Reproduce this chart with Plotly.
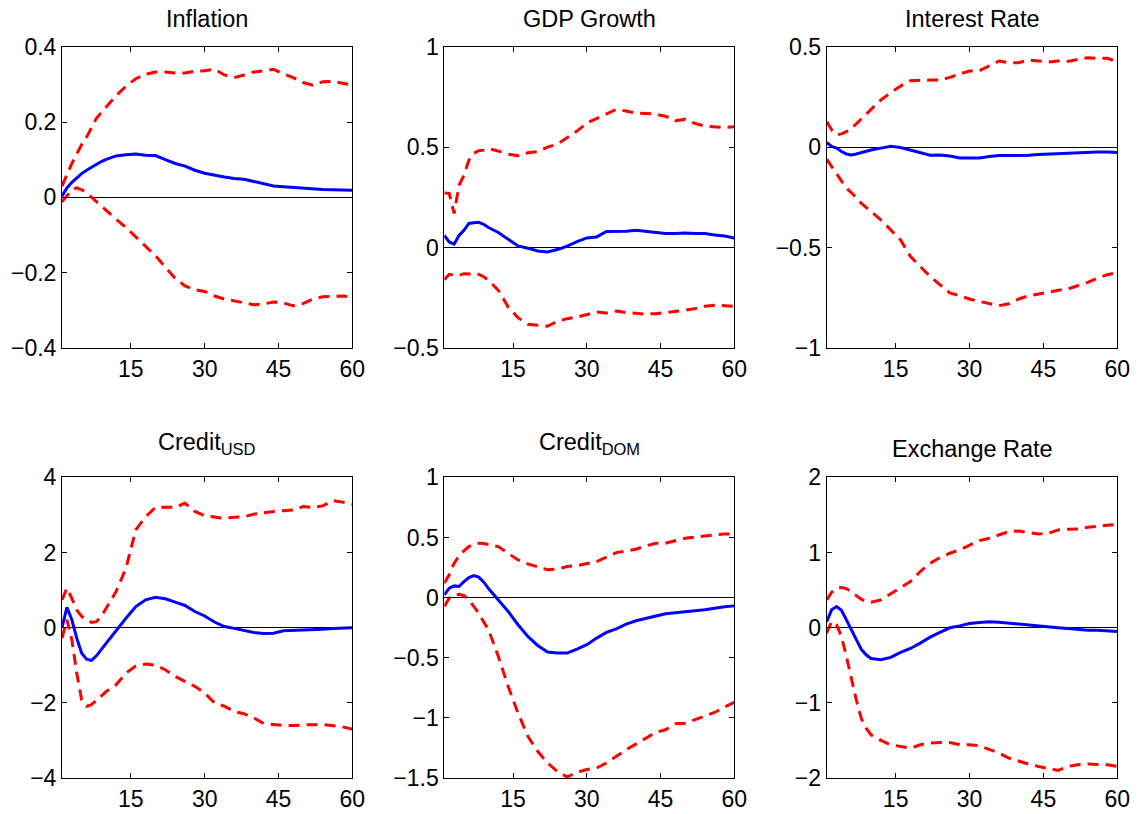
import plotly.graph_objects as go

# Forecast horizons (months)
horizon = [1, 2, 3, 4, 5, 6, 7, 8, 9, 10] + list(range(12, 61, 2))

# Inflation
infl_irf = [0.003, 0.025, 0.04, 0.052, 0.063, 0.072, 0.08, 0.088, 0.095, 0.101,
            0.11, 0.113, 0.115, 0.112, 0.111, 0.1, 0.09, 0.083, 0.072, 0.064, 0.058, 0.054, 0.05,
            0.048, 0.042, 0.036, 0.03, 0.028, 0.026, 0.025, 0.022, 0.021, 0.02, 0.019, 0.019]
infl_hi = [0.03, 0.06, 0.09, 0.115, 0.14, 0.16, 0.185, 0.21, 0.225, 0.24,
           0.27, 0.295, 0.315, 0.327, 0.333, 0.333, 0.33, 0.33, 0.335, 0.336, 0.34, 0.325, 0.318,
           0.325, 0.333, 0.336, 0.34, 0.328, 0.318, 0.305, 0.298, 0.307, 0.308, 0.303, 0.298]
infl_lo = [-0.012, 0.005, 0.02, 0.025, 0.02, 0.012, 0.0, -0.012, -0.023, -0.035,
           -0.058, -0.08, -0.105, -0.13, -0.155, -0.185, -0.215, -0.235, -0.245, -0.25, -0.262,
           -0.27, -0.275, -0.28, -0.285, -0.283, -0.278, -0.28, -0.288, -0.282, -0.27, -0.264,
           -0.262, -0.262, -0.265]

# GDP growth
gdp_irf = [0.061, 0.028, 0.017, 0.06, 0.086, 0.12, 0.123, 0.126, 0.116, 0.1,
           0.075, 0.04, 0.008, -0.003, -0.017, -0.022, -0.01, 0.007, 0.03, 0.048, 0.053, 0.08,
           0.08, 0.081, 0.086, 0.081, 0.078, 0.07, 0.07, 0.073, 0.07, 0.07, 0.063, 0.058, 0.048]
gdp_hi = [0.272, 0.27, 0.17, 0.31, 0.36, 0.435, 0.47, 0.482, 0.485, 0.493,
          0.48, 0.465, 0.457, 0.472, 0.477, 0.5, 0.515, 0.548, 0.58, 0.62, 0.643, 0.663, 0.688,
          0.68, 0.67, 0.668, 0.664, 0.654, 0.631, 0.638, 0.618, 0.605, 0.601, 0.598, 0.601]
gdp_lo = [-0.16, -0.133, -0.138, -0.138, -0.13, -0.13, -0.13, -0.133, -0.145, -0.163,
          -0.213, -0.296, -0.349, -0.382, -0.387, -0.392, -0.367, -0.354, -0.346, -0.332, -0.321,
          -0.326, -0.316, -0.324, -0.329, -0.331, -0.329, -0.324, -0.319, -0.312, -0.304, -0.292,
          -0.287, -0.289, -0.292]

# Interest rate
rate_irf = [0.023, 0.003, -0.005, -0.022, -0.034, -0.039, -0.034, -0.027, -0.02, -0.014,
            -0.005, 0.004, -0.002, -0.014, -0.027, -0.04, -0.039, -0.044, -0.054, -0.054, -0.054,
            -0.047, -0.042, -0.042, -0.042, -0.04, -0.037, -0.035, -0.03, -0.029, -0.029, -0.025,
            -0.024, -0.024, -0.027]
rate_hi = [0.127, 0.086, 0.061, 0.066, 0.077, 0.094, 0.116, 0.139, 0.162, 0.185,
           0.235, 0.271, 0.304, 0.331, 0.334, 0.334, 0.334, 0.347, 0.364, 0.379, 0.38, 0.404,
           0.429, 0.42, 0.42, 0.434, 0.43, 0.424, 0.429, 0.427, 0.437, 0.445, 0.442, 0.442, 0.425]
rate_lo = [-0.06, -0.097, -0.13, -0.171, -0.204, -0.226, -0.254, -0.279, -0.3, -0.321,
           -0.362, -0.412, -0.462, -0.544, -0.594, -0.644, -0.685, -0.726, -0.74, -0.756, -0.768,
           -0.78, -0.789, -0.78, -0.756, -0.74, -0.73, -0.723, -0.713, -0.706, -0.69, -0.673,
           -0.652, -0.635, -0.624]

# Credit in US dollars
cusd_irf = [0.0, 0.54, 0.21, -0.28, -0.68, -0.84, -0.87, -0.75, -0.58, -0.41,
            -0.06, 0.25, 0.56, 0.74, 0.81, 0.77, 0.68, 0.59, 0.43, 0.31, 0.15, 0.03, -0.02,
            -0.08, -0.13, -0.155, -0.15, -0.085, -0.075, -0.06, -0.06, -0.04, -0.02, 0.0, 0.0]
cusd_hi = [0.74, 1.05, 0.78, 0.47, 0.3, 0.21, 0.14, 0.16, 0.3, 0.52,
           0.96, 1.58, 2.6, 2.95, 3.2, 3.2, 3.2, 3.31, 3.09, 2.98, 2.95, 2.91, 2.94,
           2.95, 3.02, 3.06, 3.09, 3.11, 3.13, 3.22, 3.2, 3.24, 3.38, 3.34, 3.28]
cusd_lo = [-0.28, 0.21, -0.32, -1.21, -1.92, -2.09, -2.05, -1.94, -1.82, -1.7,
           -1.52, -1.21, -1.02, -0.97, -1.0, -1.12, -1.3, -1.43, -1.56, -1.74, -2.0, -2.09, -2.23,
           -2.29, -2.4, -2.55, -2.58, -2.6, -2.6, -2.58, -2.58, -2.58, -2.61, -2.64, -2.7]

# Domestic-currency credit
cdom_irf = [0.023, 0.078, 0.097, 0.092, 0.133, 0.166, 0.183, 0.17, 0.13, 0.075,
            -0.02, -0.115, -0.226, -0.323, -0.398, -0.453, -0.461, -0.461, -0.428, -0.392, -0.337,
            -0.29, -0.26, -0.221, -0.193, -0.174, -0.152, -0.135, -0.127, -0.121, -0.11, -0.102,
            -0.088, -0.077, -0.069]
cdom_hi = [0.12, 0.189, 0.286, 0.346, 0.388, 0.424, 0.446, 0.452, 0.45, 0.443,
           0.424, 0.369, 0.313, 0.28, 0.258, 0.231, 0.236, 0.258, 0.266, 0.28, 0.3, 0.336, 0.374,
           0.388, 0.402, 0.43, 0.452, 0.452, 0.471, 0.493, 0.502, 0.513, 0.521, 0.529, 0.529]
cdom_lo = [-0.074, -0.005, 0.017, 0.028, 0.017, -0.019, -0.074, -0.13, -0.2, -0.268,
           -0.49, -0.739, -0.96, -1.154, -1.278, -1.375, -1.445, -1.492, -1.453, -1.43, -1.417,
           -1.375, -1.32, -1.265, -1.218, -1.168, -1.121, -1.099, -1.049, -1.044, -1.016, -0.988,
           -0.955, -0.911, -0.872]

# Exchange rate
fx_irf = [0.08, 0.237, 0.28, 0.23, 0.104, -0.029, -0.162, -0.286, -0.361, -0.41,
          -0.427, -0.396, -0.33, -0.277, -0.206, -0.126, -0.064, -0.002, 0.024, 0.055, 0.069,
          0.078, 0.073, 0.06, 0.047, 0.029, 0.02, 0.011, -0.002, -0.011, -0.024, -0.033, -0.033,
          -0.038, -0.051]
fx_hi = [0.37, 0.472, 0.525, 0.534, 0.52, 0.48, 0.427, 0.379, 0.35, 0.339,
         0.37, 0.45, 0.525, 0.613, 0.746, 0.857, 0.932, 0.99, 1.034, 1.1, 1.158, 1.19, 1.233,
         1.278, 1.286, 1.269, 1.247, 1.256, 1.3, 1.309, 1.313, 1.336, 1.344, 1.362, 1.375]
fx_lo = [-0.073, 0.082, 0.038, -0.117, -0.383, -0.693, -0.959, -1.203, -1.337, -1.425,
         -1.5, -1.558, -1.58, -1.602, -1.558, -1.536, -1.527, -1.527, -1.558, -1.558, -1.571,
         -1.625, -1.669, -1.736, -1.78, -1.815, -1.846, -1.869, -1.9, -1.846, -1.824, -1.815,
         -1.815, -1.824, -1.846]

titles = ["Inflation", "GDP Growth", "Interest Rate",
          "Credit<sub>USD</sub>", "Credit<sub>DOM</sub>", "Exchange Rate"]
x_ticks = [15, 30, 45, 60]
y_ranges = [[-0.4, 0.4], [-0.5, 1], [-1, 0.5], [-4, 4], [-1.5, 1], [-2, 2]]
y_ticks = [[-0.4, -0.2, 0, 0.2, 0.4], [-0.5, 0, 0.5, 1], [-1, -0.5, 0, 0.5],
           [-4, -2, 0, 2, 4], [-1.5, -1, -0.5, 0, 0.5, 1], [-2, -1, 0, 1, 2]]

panels = [(infl_irf, infl_hi, infl_lo), (gdp_irf, gdp_hi, gdp_lo),
          (rate_irf, rate_hi, rate_lo), (cusd_irf, cusd_hi, cusd_lo),
          (cdom_irf, cdom_hi, cdom_lo), (fx_irf, fx_hi, fx_lo)]

W, H = 1140, 814
col_px = [(62, 352.3), (444.3, 734.3), (826.7, 1117.3)]
row_px = [(46.7, 348), (477.3, 778)]

FONT = "Liberation Sans, Arial, Helvetica, sans-serif"
TICK_SIZE = 23
TITLE_SIZE = 23.5
fig = go.Figure()
layout = dict(
    width=W, height=H, margin=dict(l=0, r=0, t=0, b=0, autoexpand=False),
    paper_bgcolor="white", plot_bgcolor="white", showlegend=False,
    font=dict(family=FONT, size=TICK_SIZE, color="black"),
    annotations=[],
)

for i, (irf, hi, lo) in enumerate(panels):
    r, c = divmod(i, 3)
    ax = "" if i == 0 else str(i + 1)
    xdom = [col_px[c][0] / W, col_px[c][1] / W]
    ydom = [1 - row_px[r][1] / H, 1 - row_px[r][0] / H]
    common = dict(showline=True, mirror="ticks", linecolor="black", linewidth=1,
                  ticks="inside", ticklen=5, tickwidth=1, tickcolor="black",
                  showgrid=False, tickfont=dict(size=TICK_SIZE, family=FONT, color="black"))
    layout["xaxis" + ax] = dict(domain=xdom, range=[1, 60], tickvals=x_ticks,
                                zeroline=False, anchor="y" + ax, **common)
    layout["yaxis" + ax] = dict(domain=ydom, range=y_ranges[i], tickvals=y_ticks[i],
                                zeroline=True, zerolinecolor="black", zerolinewidth=1,
                                anchor="x" + ax, **common)
    for band in (hi, lo):
        fig.add_trace(go.Scatter(x=horizon, y=band, mode="lines", xaxis="x" + ax, yaxis="y" + ax,
                                 line=dict(color="#ff0000", width=3, dash="11px,7px")))
    fig.add_trace(go.Scatter(x=horizon, y=irf, mode="lines", xaxis="x" + ax, yaxis="y" + ax,
                             line=dict(color="#0000ff", width=3)))
    shift = 17 if "<sub>" in titles[i] else 13
    layout["annotations"].append(dict(
        text=titles[i], x=(xdom[0] + xdom[1]) / 2, y=ydom[1], xref="paper", yref="paper",
        xanchor="center", yanchor="bottom", yshift=shift, showarrow=False,
        font=dict(size=TITLE_SIZE, family=FONT, color="black")))

fig.update_layout(**layout)
fig.write_html("out.html")
